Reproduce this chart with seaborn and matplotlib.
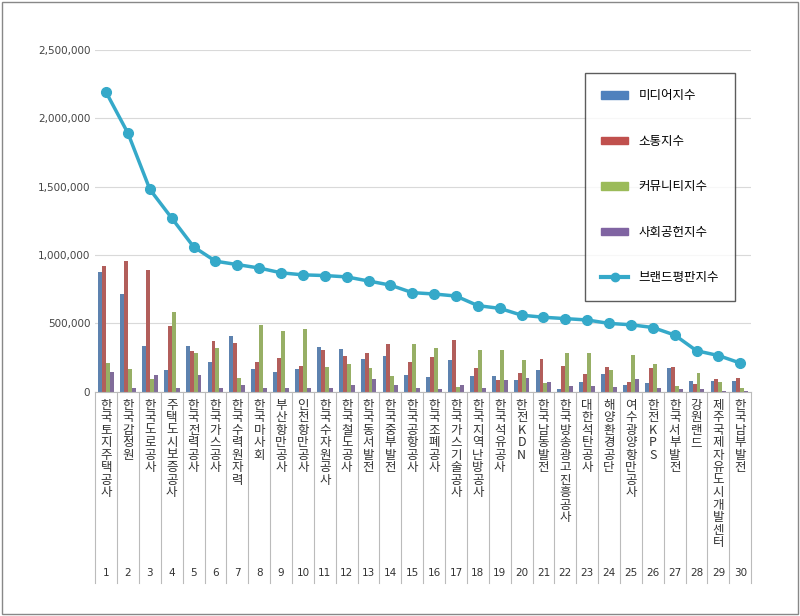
import matplotlib
matplotlib.use("Agg")
import matplotlib.pyplot as plt
import matplotlib.transforms as mtrans
from matplotlib.lines import Line2D
from matplotlib.patches import Patch
import seaborn as sns
import pandas as pd

plt.rcParams["font.family"] = ["Noto Sans CJK KR", "Noto Sans CJK JP", "Noto Sans CJK SC", "DejaVu Sans"]

names = ["한국토지주택공사","한국감정원","한국도로공사","주택도시보증공사","한국전력공사","한국가스공사",
         "한국수력원자력","한국마사회","부산항만공사","인천항만공사","한국수자원공사","한국철도공사",
         "한국동서발전","한국중부발전","한국공항공사","한국조폐공사","한국가스기술공사","한국지역난방공사",
         "한국석유공사","한전KDN","한국남동발전","한국방송광고진흥공사","대한석탄공사","해양환경공단",
         "여수광양항만공사","한전KPS","한국서부발전","강원랜드","제주국제자유도시개발센터","한국남부발전"]
media = [877,713,333,157,333,217,408,166,145,166,328,311,241,258,123,109,229,116,116,85,162,22,68,133,53,65,174,82,80,80]
comm = [918,954,894,483,301,374,355,215,244,191,307,263,287,350,215,254,379,174,85,140,237,186,128,181,70,174,181,56,92,99]
community = [213,170,97,587,282,321,104,490,447,459,179,200,174,114,350,321,36,307,309,229,65,283,283,157,266,205,41,138,72,24]
social = [145,24,126,31,126,24,53,24,31,31,24,53,92,53,31,17,46,29,85,99,75,41,41,36,94,24,17,17,7,7]
brand = [2190,1890,1480,1270,1060,955,930,905,870,855,850,840,810,780,725,715,700,630,610,560,545,535,525,500,490,470,415,300,265,210]
series = ["미디어지수","소통지수","커뮤니티지수","사회공헌지수"]
colors = ["#4F81BD","#C0504D","#9BBB59","#8064A2"]
line_name = "브랜드평판지수"
line_color = "#35A9C9"

rows = []
for i, n in enumerate(names):
    for s, vals in zip(series, [media, comm, community, social]):
        rows.append({"rank": i, "series": s, "value": vals[i] * 1000})
df = pd.DataFrame(rows)

fig = plt.figure(figsize=(8, 6.16), dpi=100)
fig.patches.append(plt.Rectangle((0.003, 0.003), 0.994, 0.994, transform=fig.transFigure,
                                 fill=False, edgecolor="#888888", lw=1))
ax = fig.add_axes([0.119, 0.364, 0.82, 0.555])
sns.barplot(data=df, x="rank", y="value", hue="series", palette=colors, ax=ax,
            width=0.72, legend=False)
ax.plot(range(len(names)), [b * 1000 for b in brand], color=line_color, lw=2.5,
        marker="o", ms=7, zorder=5)
ax.set_ylim(0, 2500000)
ax.set_xlim(-0.5, len(names) - 0.5)
ax.set_yticks(range(0, 2500001, 500000))
ax.set_yticklabels([f"{v:,}" for v in range(0, 2500001, 500000)], fontsize=7.5, color="#444444",
                   family="DejaVu Sans")
ax.yaxis.grid(True, color="#d9d9d9", lw=0.8)
ax.set_axisbelow(True)
for sp in ["top", "right", "left"]:
    ax.spines[sp].set_visible(False)
ax.spines["bottom"].set_color("#bbbbbb")
ax.tick_params(axis="y", length=0)
ax.set_xticks([])
ax.set_xlabel("")
ax.set_ylabel("")

tr = mtrans.blended_transform_factory(ax.transData, ax.transAxes)
for i, n in enumerate(names):
    ax.text(i, -0.02, "\n".join(n), transform=tr, ha="center", va="top", fontsize=9,
            linespacing=0.95, color="#333333")
    ax.text(i, -0.53, str(i + 1), transform=tr, ha="center", va="center", fontsize=7.5,
            color="#333333", family="DejaVu Sans")
for i in range(len(names) + 1):
    ax.add_line(Line2D([i - 0.5, i - 0.5], [0, -0.56], transform=tr, color="#bbbbbb",
                       lw=0.8, clip_on=False))

handles = [Patch(color=c) for c in colors] + [Line2D([], [], color=line_color, lw=3, marker="o", ms=6)]
leg = ax.legend(handles, series + [line_name], loc="upper right", bbox_to_anchor=(0.985, 0.95),
                fontsize=9, labelspacing=2.6, borderpad=1.3, frameon=True, fancybox=False,
                handlelength=2.2, handleheight=0.5)
leg.get_frame().set_edgecolor("#333333")
leg.get_frame().set_linewidth(1)
fig.savefig("out.png", dpi=100)
